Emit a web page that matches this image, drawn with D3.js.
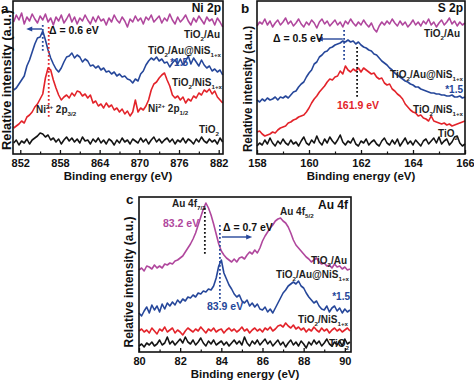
<!DOCTYPE html>
<html><head><meta charset="utf-8">
<script src="https://cdn.jsdelivr.net/npm/d3@7"></script>
<style>body{margin:0;background:#fff}svg{display:block}text{font-family:"Liberation Sans",Arial,Helvetica,sans-serif}</style>
</head><body>
<script>
// ---------- Panel a : Ni 2p ----------
const niEnergy = d3.range(851.0, 882.61, 0.4);
const niTiO2Au = [132,139,134,141,130,137,133,140,135,131,138,134,140,132,136,129,137,133,139,131,135,140,132,137,130,136,133,139,134,130,137,132,138,133,135,129,136,132,139,134,131,137,133,127,135,132,138,133,136,130,137,134,139,132,135,138,131,136,133,140,134,130,137,132,135,139,133,129,136,132,138,134,130,137,133,135,129,136,132,127];
const niTiO2AuNiS = [64,66,70,74,78,88,94,102,110,116,117,123,114,104,96,90,85,82,86,92,97,98,101,96,99,97,92,95,93,88,89,86,88,84,86,82,83,80,82,78,80,77,78,75,74,71,75,73,80,83,89,93,96,94,97,93,95,91,92,87,91,94,90,95,89,93,98,90,96,92,88,94,89,86,88,83,85,82,84,79];
const niTiO2NiS = [26,28,30,33,31,37,39,42,47,50,55,60,76,86,84,74,66,59,54,57,59,56,61,58,63,62,58,60,56,59,51,53,48,50,46,51,47,49,44,46,42,45,40,43,38,42,54,42,46,44,48,54,64,70,72,76,79,81,74,68,59,56,58,54,57,51,55,53,58,56,61,59,64,62,65,60,63,57,54,51];
const niTiO2 = [11,14,9,13,11,15,10,14,16,18,21,20,17,19,14,16,12,15,10,14,17,13,16,12,15,11,17,13,14,10,15,12,16,11,14,10,15,13,9,14,11,16,12,14,10,15,13,11,16,12,15,10,14,17,12,15,11,14,16,12,15,10,14,12,16,11,15,13,10,15,12,17,13,11,15,12,14,10,16,12];
const niTicks = [852,858,864,870,876,882];
const niMinor = [855,861,867,873,879];

// ---------- Panel b : S 2p ----------
const sEnergy = d3.range(158.0, 166.01, 0.1);
const sTiO2Au = [128,132,130,135,129,133,127,131,134,129,132,136,130,133,128,131,135,130,127,132,129,134,131,126,132,135,130,133,128,131,134,129,132,127,133,130,135,131,128,132,129,134,130,127,131,125,122,128,132,129,133,130,135,131,128,133,129,132,127,130,134,129,132,128,133,130,135,129,132,127,131,134,129,132,136,130,133,128,132,129,131];
const sTiO2AuNiS = [54,52,55,53,56,54,55,57,54,57,56,58,56,59,62,63,67,70,72,77,81,84,90,92,97,99,102,103,106,107,109,110,111,113,112,114,112,113,110,112,109,107,106,104,103,100,99,96,93,91,89,86,84,81,79,77,75,73,72,70,69,67,67,65,64,63,62,61,61,60,60,59,59,58,58,59,57,57,58,56,57];
const sTiO2NiS = [22,23,20,18,19,20,22,21,24,26,27,28,31,32,34,35,37,38,39,42,46,51,55,58,62,65,68,72,75,74,77,78,83,80,88,84,82,85,83,86,82,86,84,82,80,81,77,75,76,71,69,70,65,63,60,58,55,50,47,44,42,41,38,39,36,35,33,38,33,32,31,30,31,29,30,28,29,30,31,32,33];
const sTiO2 = [8,11,9,14,10,16,11,8,13,10,15,11,9,14,10,12,8,13,17,11,9,14,11,18,12,9,15,11,17,13,10,14,19,12,9,13,11,16,10,8,13,11,15,9,12,14,10,8,13,16,11,9,14,10,15,8,12,16,10,13,9,14,11,8,13,15,10,13,16,11,17,10,13,15,9,12,17,18,11,8,10];
const sTicks = [158,160,162,164,166];
const sMinor = [159,161,163,165];

// ---------- Panel c : Au 4f ----------
const auEnergy = d3.range(80.0, 90.26, 0.125);
const auTiO2Au = [82,84,81,86,85,83,87,84,86,84,88,87,89,88,91,92,94,96,100,104,108,113,119,127,135,143,149,144,137,128,118,108,101,97,94,92,90,93,90,94,95,93,97,100,98,102,99,104,111,116,120,124,127,131,133,134,131,129,125,119,112,107,104,101,98,95,93,90,92,94,90,88,89,86,87,84,88,85,86,83,85,82,83];
const auTiO2AuNiS = [39,36,41,45,39,47,42,46,40,48,43,49,46,50,47,52,49,53,51,55,54,57,55,59,58,61,60,63,62,66,74,86,92,79,73,67,63,58,55,57,51,49,52,46,49,45,48,43,42,45,40,43,39,44,49,54,59,62,66,68,70,68,71,66,64,59,55,52,49,51,46,43,42,46,40,44,46,41,44,39,43,40,42];
const auTiO2NiS = [21,23,20,22,19,24,21,18,23,21,25,20,22,24,19,22,20,17,21,24,22,20,23,21,25,22,19,23,21,24,20,22,23,19,22,24,21,23,20,22,25,21,23,19,22,24,21,23,20,24,22,25,21,23,26,27,25,29,26,24,27,23,25,22,24,20,23,21,25,22,20,24,21,23,19,22,24,21,23,20,22,24,21];
const auTiO2 = [6,8,5,9,7,10,6,8,12,7,9,15,8,11,7,10,13,9,15,10,8,12,7,10,14,9,6,11,8,12,7,9,11,7,10,6,9,12,8,11,7,15,9,6,11,8,12,7,10,13,8,11,6,9,12,7,10,5,9,12,7,10,6,11,8,4,10,7,12,8,11,6,9,13,8,6,10,7,11,6,13,8,10];
const auTicks = [80,82,84,86,88,90];
const auMinor = [81,83,85,87,89];

// ---------- drawing ----------
const W = 474, H = 380;
const COL = {au:"#b0479d", auNiS:"#26479a", niS:"#e3232a", tio2:"#141414", text:"#1e1e1e"};
const svg = d3.select("body").append("svg").attr("width", W).attr("height", H);

function richText(g, x, y, parts, o = {}) {
  const size = o.size || 10;
  const t = g.append("text").attr("x", x).attr("y", y)
    .attr("font-size", size).attr("font-weight", o.weight || "bold")
    .attr("fill", o.color || COL.text).attr("text-anchor", o.anchor || "start");
  let shift = 0;
  parts.forEach(p => {
    let txt = p, kind = null;
    if (Array.isArray(p)) { txt = p[0]; kind = p[1]; }
    const target = kind === "sub" ? size * 0.32 : kind === "sup" ? -size * 0.4 : 0;
    t.append("tspan").attr("dy", target - shift)
      .attr("font-size", kind ? size * 0.62 : size).text(txt);
    shift = target;
  });
  return t;
}

function arrow(g, x1, x2, y, color) {
  const dir = Math.sign(x2 - x1);
  g.append("line").attr("x1", x1).attr("x2", x2 - dir * 5).attr("y1", y).attr("y2", y)
    .attr("stroke", color).attr("stroke-width", 1.4);
  g.append("path").attr("d", `M${x2},${y}L${x2 - dir * 6},${y - 2.6}L${x2 - dir * 6},${y + 2.6}Z`).attr("fill", color);
}

function vdots(g, x, ya, yb, color) {
  g.append("line").attr("x1", x).attr("x2", x).attr("y1", ya).attr("y2", yb)
    .attr("stroke", color).attr("stroke-width", 1.8).attr("stroke-dasharray", "1.8,2.2");
}

function panel(p) {
  const g = svg.append("g");
  const x = d3.scaleLinear().domain(p.xDomain).range([p.left, p.right]);
  const y = d3.scaleLinear().domain(p.yDomain).range([p.bottom, p.top]);
  const line = d3.line().x((d, i) => x(p.energy[i])).y(d => y(d)).curve(d3.curveLinear);
  p.series.forEach(s => {
    g.append("path").datum(s.values).attr("d", line).attr("fill", "none")
      .attr("stroke", s.color).attr("stroke-width", 1.6).attr("stroke-linejoin", "round");
  });
  g.append("g").attr("transform", `translate(0,${p.bottom})`)
    .call(d3.axisBottom(x).tickValues(p.minor).tickSizeInner(-2.5).tickSizeOuter(0).tickFormat(""))
    .call(a => { a.select(".domain").remove(); a.selectAll("line").attr("stroke", "#111").attr("stroke-width", 1.2); });
  g.append("g").attr("transform", `translate(0,${p.bottom})`)
    .call(d3.axisBottom(x).tickValues(p.ticks).tickSizeInner(-4).tickSizeOuter(0).tickPadding(5).tickFormat(d3.format("d")))
    .call(a => {
      a.select(".domain").remove();
      a.selectAll("line").attr("stroke", "#111").attr("stroke-width", 1.3);
      a.selectAll("text").attr("font-size", 11).attr("font-weight", "bold")
        .attr("font-family", '"Liberation Sans",Arial,sans-serif').attr("fill", "#111");
    });
  g.append("rect").attr("x", p.left).attr("y", p.top).attr("width", p.right - p.left).attr("height", p.bottom - p.top)
    .attr("fill", "none").attr("stroke", "#111").attr("stroke-width", 1.6);
  g.append("text").attr("x", (p.left + p.right) / 2).attr("y", p.titleY).attr("text-anchor", "middle")
    .attr("font-size", 11.5).attr("font-weight", "bold").attr("fill", "#111").text("Binding energy (eV)");
  g.append("text").attr("transform", `translate(${p.ylabX},${p.ylabY}) rotate(-90)`).attr("text-anchor", "middle")
    .attr("font-size", 12).attr("font-weight", "bold").attr("fill", "#111")
    .attr("textLength", p.ylabLen).attr("lengthAdjust", "spacingAndGlyphs").text("Relative intensity (a.u.)");
  g.append("text").attr("x", p.letterX).attr("y", p.letterY).attr("font-size", 13.5).attr("font-weight", "bold")
    .attr("fill", "#111").text(p.letter);
  return {g, x, y};
}

// Panel a
{
  const P = panel({left: 13, right: 223, top: 1, bottom: 154, xDomain: [850.9, 882.65], yDomain: [0, 153],
    energy: niEnergy, ticks: niTicks, minor: niMinor, titleY: 180, ylabX: 10.5, ylabY: 80, ylabLen: 140,
    letter: "a", letterX: 1, letterY: 13,
    series: [{values: niTiO2, color: COL.tio2}, {values: niTiO2NiS, color: COL.niS},
             {values: niTiO2AuNiS, color: COL.auNiS}, {values: niTiO2Au, color: COL.au}]});
  const {g, x, y} = P;
  vdots(g, x(855.4), y(129), y(101), COL.auNiS);
  vdots(g, x(856.3), y(127), y(37), COL.niS);
  arrow(g, x(855.3), x(852.9), y(125), COL.auNiS);
  richText(g, 49, 34, ["Δ = 0.6 eV"], {size: 10.5, color: "#111"});
  richText(g, 221, 12, ["Ni 2p"], {size: 12, anchor: "end", color: "#111"});
  richText(g, 220, 38, ["TiO", ["2", "sub"], "/Au"], {anchor: "end"});
  richText(g, 221, 54, ["TiO", ["2", "sub"], "/Au@NiS", ["1+x", "sub"]], {anchor: "end"});
  richText(g, 188, 66, ["*1.5"], {anchor: "end", color: COL.auNiS});
  richText(g, 222, 86, ["TiO", ["2", "sub"], "/NiS", ["1+x", "sub"]], {anchor: "end"});
  richText(g, 36, 113, ["Ni", ["2+", "sup"], " 2p", ["3/2", "sub"]]);
  richText(g, 148, 112, ["Ni", ["2+", "sup"], " 2p", ["1/2", "sub"]]);
  richText(g, 219, 133, ["TiO", ["2", "sub"]], {anchor: "end"});
}

// Panel b
{
  const P = panel({left: 257, right: 465, top: 1, bottom: 154, xDomain: [158, 166], yDomain: [0, 153],
    energy: sEnergy, ticks: sTicks, minor: sMinor, titleY: 180, ylabX: 252, ylabY: 89, ylabLen: 126,
    letter: "b", letterX: 241, letterY: 13,
    series: [{values: sTiO2, color: COL.tio2}, {values: sTiO2NiS, color: COL.niS},
             {values: sTiO2AuNiS, color: COL.auNiS}, {values: sTiO2Au, color: COL.au}]});
  const {g, x, y} = P;
  vdots(g, x(161.35), y(124), y(94), COL.auNiS);
  vdots(g, x(161.85), y(107), y(57), "#111");
  arrow(g, x(161.3), x(160.3), y(115), COL.auNiS);
  richText(g, 273, 42, ["Δ = 0.5 eV"], {size: 10.5, color: "#111"});
  richText(g, 463, 12, ["S 2p"], {size: 12, anchor: "end", color: "#111"});
  richText(g, 460, 37, ["TiO", ["2", "sub"], "/Au"], {anchor: "end"});
  richText(g, 463, 78, ["TiO", ["2", "sub"], "/Au@NiS", ["1+x", "sub"]], {anchor: "end"});
  richText(g, 463, 93, ["*1.5"], {anchor: "end", color: COL.auNiS});
  richText(g, 337, 109, ["161.9 eV"], {size: 10.5, color: COL.niS});
  richText(g, 463, 113, ["TiO", ["2", "sub"], "/NiS", ["1+x", "sub"]], {anchor: "end"});
  richText(g, 458, 137, ["TiO", ["2", "sub"]], {anchor: "end"});
}

// Panel c
{
  const P = panel({left: 139, right: 351, top: 197, bottom: 352, xDomain: [80, 90.3], yDomain: [0, 155],
    energy: auEnergy, ticks: auTicks, minor: auMinor, titleY: 378, ylabX: 133, ylabY: 282, ylabLen: 131,
    letter: "c", letterX: 126, letterY: 204,
    series: [{values: auTiO2, color: COL.tio2}, {values: auTiO2NiS, color: COL.niS},
             {values: auTiO2AuNiS, color: COL.auNiS}, {values: auTiO2Au, color: COL.au}]});
  const {g, x, y} = P;
  vdots(g, x(83.2), y(144), y(97), "#111");
  vdots(g, x(83.93), y(127), y(50), COL.auNiS);
  arrow(g, x(84.03), x(85.5), y(115), COL.auNiS);
  richText(g, 223, 231, ["Δ = 0.7 eV"], {size: 10.5, color: "#111"});
  richText(g, 348, 209, ["Au 4f"], {size: 12, anchor: "end", color: "#111"});
  richText(g, 172, 207, ["Au 4f", ["7/2", "sub"]]);
  richText(g, 163, 227, ["83.2 eV"], {size: 10.5, color: COL.au});
  richText(g, 280, 215, ["Au 4f", ["5/2", "sub"]]);
  richText(g, 347, 264, ["TiO", ["2", "sub"], "/Au"], {anchor: "end"});
  richText(g, 349, 278, ["TiO", ["2", "sub"], "/Au@NiS", ["1+x", "sub"]], {anchor: "end"});
  richText(g, 350, 300, ["*1.5"], {anchor: "end", color: COL.auNiS});
  richText(g, 207, 310, ["83.9 eV"], {size: 10.5, color: COL.auNiS});
  richText(g, 348, 323, ["TiO", ["2", "sub"], "/NiS", ["1+x", "sub"]], {anchor: "end"});
  richText(g, 349, 347, ["TiO", ["2", "sub"]], {anchor: "end"});
}
</script>
</body></html>
